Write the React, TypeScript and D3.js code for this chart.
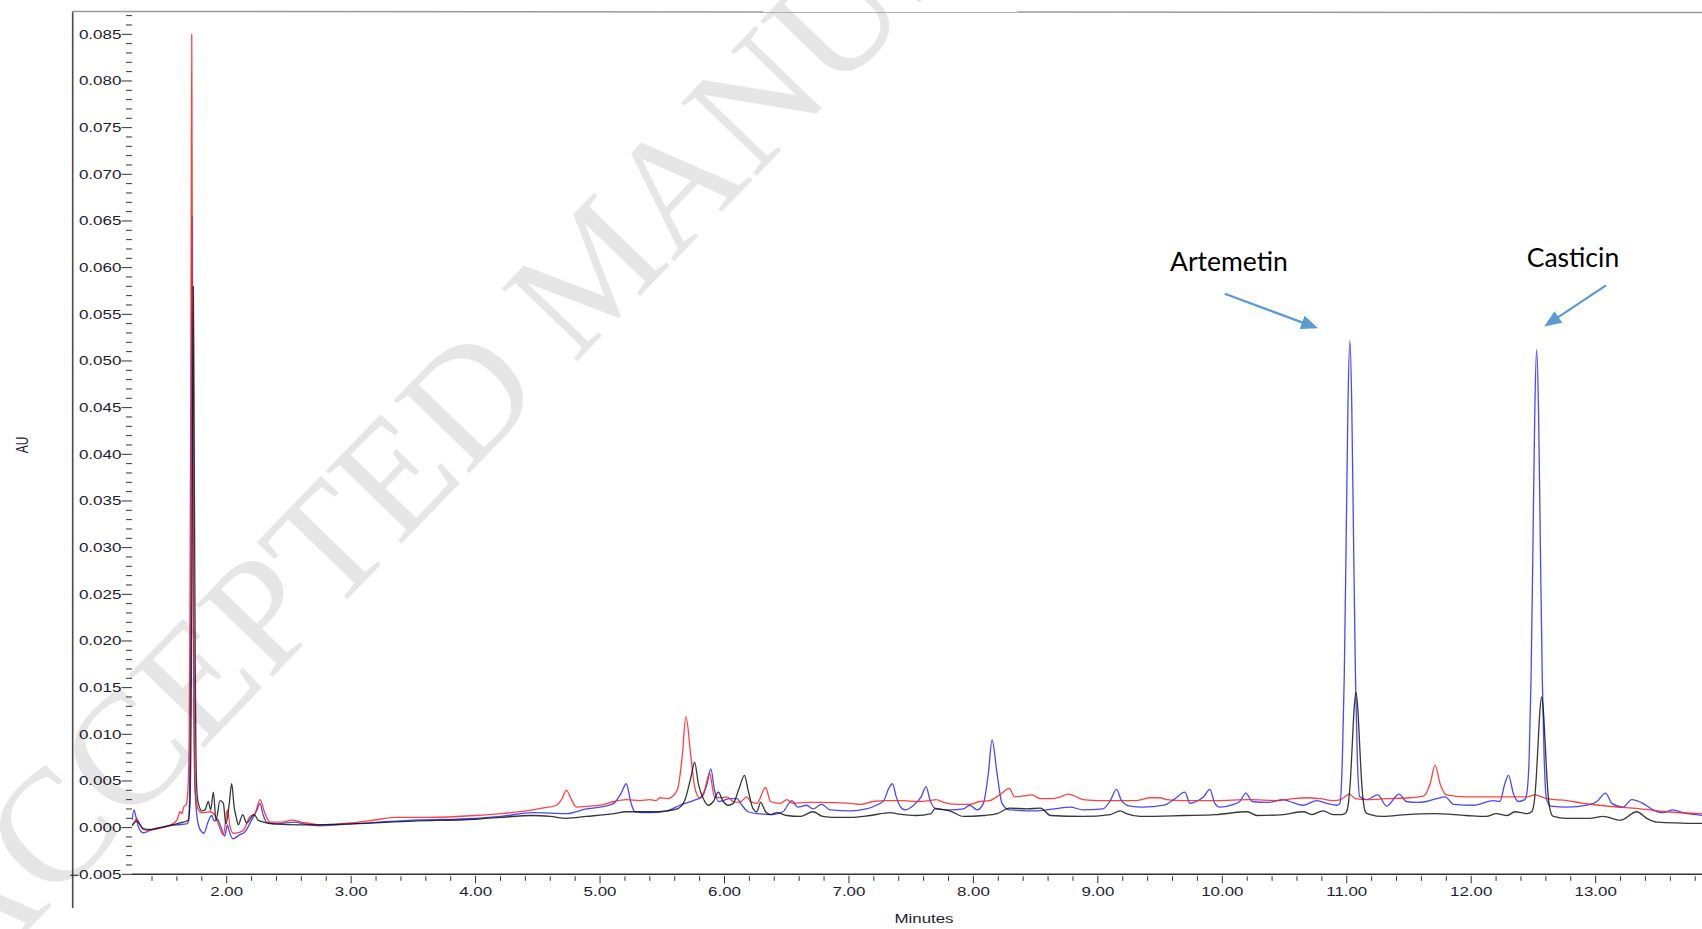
import React from "react";
import * as d3 from "d3";

// Retention time (min) and absorbance (AU) for each injection trace.
const blueTrace: [number, number][] = [
  [1.24, 0.0008], [1.255, 0.0019], [1.27, 0.0012], [1.29, 0.0001], [1.33, -0.00055],
  [1.40, -0.0002], [1.50, 0.0001], [1.60, 0.0003], [1.68, 0.0004], [1.695, 0.0008],
  [1.702, 0.004], [1.707, 0.012], [1.712, 0.027], [1.717, 0.048], [1.722, 0.0655],
  [1.727, 0.048], [1.732, 0.027], [1.737, 0.012], [1.743, 0.005], [1.75, 0.003],
  [1.765, 0.0008], [1.79, -0.0003], [1.817, -0.0006], [1.85, 0.0006], [1.879, 0.0013],
  [1.90, 0.0007], [1.925, 0.0009], [1.95, 0.0002], [1.985, -0.0009], [2.005, 0.0003],
  [2.02, -0.0004], [2.05, -0.0012], [2.10, -0.0008], [2.15, -0.0004], [2.20, 0.0008],
  [2.24, 0.0018], [2.268, 0.0026], [2.29, 0.0015], [2.32, 0.0006], [2.40, 0.0004],
  [2.55, 0.0006], [2.62, 0.0004], [2.75, 0.0002], [3.00, 0.0004], [3.50, 0.0008],
  [4.00, 0.0010], [4.20, 0.0012], [4.46, 0.0016], [4.73, 0.0015], [4.89, 0.0020],
  [5.00, 0.0022], [5.11, 0.0026], [5.17, 0.0037], [5.21, 0.0047], [5.25, 0.0026],
  [5.28, 0.0017], [5.40, 0.0016], [5.54, 0.0018], [5.64, 0.0024], [5.75, 0.0029],
  [5.82, 0.0033], [5.86, 0.0047], [5.89, 0.0063], [5.92, 0.0040], [5.95, 0.0028],
  [5.99, 0.0029], [6.04, 0.0031], [6.10, 0.0031], [6.14, 0.0024], [6.19, 0.0017],
  [6.26, 0.0015], [6.39, 0.0014], [6.47, 0.0017], [6.54, 0.0029], [6.59, 0.0022],
  [6.66, 0.0024], [6.71, 0.0020], [6.78, 0.0025], [6.85, 0.0019], [7.01, 0.0018],
  [7.14, 0.0020], [7.22, 0.0024], [7.28, 0.0029], [7.32, 0.0042], [7.35, 0.0047],
  [7.38, 0.0033], [7.41, 0.0023], [7.45, 0.0019], [7.52, 0.0024], [7.58, 0.0033],
  [7.62, 0.0044], [7.65, 0.0030], [7.69, 0.0021], [7.81, 0.0019], [7.92, 0.0020],
  [7.97, 0.0024], [8.03, 0.0019], [8.08, 0.0026], [8.12, 0.0058], [8.15, 0.0094],
  [8.19, 0.0058], [8.23, 0.0026], [8.29, 0.0019], [8.51, 0.0018], [8.65, 0.0020],
  [8.78, 0.0022], [8.88, 0.0019], [9.04, 0.0020], [9.10, 0.0029], [9.15, 0.0041],
  [9.19, 0.0029], [9.26, 0.0023], [9.36, 0.0022], [9.53, 0.0024], [9.61, 0.0030],
  [9.70, 0.0038], [9.74, 0.0026], [9.79, 0.0028], [9.85, 0.0033], [9.90, 0.0041],
  [9.94, 0.0026], [9.98, 0.0022], [10.09, 0.0025], [10.14, 0.0028], [10.19, 0.0037],
  [10.24, 0.0028], [10.36, 0.0027], [10.49, 0.0030], [10.54, 0.0028], [10.65, 0.0024],
  [10.76, 0.0029], [10.84, 0.0026], [10.92, 0.0024], [10.945, 0.0026], [10.965, 0.0075],
  [10.98, 0.0162], [10.995, 0.0305], [11.01, 0.0455], [11.025, 0.0522], [11.04, 0.0455],
  [11.055, 0.0305], [11.07, 0.0162], [11.085, 0.0075], [11.105, 0.0033], [11.16, 0.0030],
  [11.25, 0.0035], [11.32, 0.0023], [11.42, 0.0036], [11.48, 0.0028], [11.56, 0.0027],
  [11.64, 0.0028], [11.72, 0.0031], [11.79, 0.0033], [11.86, 0.0025], [12.02, 0.0024],
  [12.18, 0.0029], [12.23, 0.0028], [12.27, 0.0047], [12.30, 0.0056], [12.34, 0.0036],
  [12.38, 0.0028], [12.43, 0.0030], [12.446, 0.0036], [12.466, 0.0076], [12.481, 0.0161],
  [12.496, 0.0300], [12.511, 0.0447], [12.526, 0.0512], [12.541, 0.0447], [12.556, 0.0300],
  [12.571, 0.0161], [12.586, 0.0076], [12.606, 0.0030], [12.64, 0.0023], [12.77, 0.0022],
  [12.93, 0.0024], [13.01, 0.0028], [13.08, 0.0037], [13.13, 0.0026], [13.22, 0.0022],
  [13.29, 0.0030], [13.38, 0.0026], [13.46, 0.0019], [13.54, 0.0016], [13.62, 0.0019],
  [13.70, 0.0016], [13.86, 0.0013],
];

const redTrace: [number, number][] = [
  [1.24, 0.0003], [1.255, 0.0005], [1.277, 0.0010], [1.30, 0.0004], [1.33, -0.0002],
  [1.37, -0.0003], [1.45, -0.0001], [1.55, 0.0003], [1.60, 0.0008], [1.625, 0.0017],
  [1.64, 0.0015], [1.655, 0.0022], [1.675, 0.0025], [1.69, 0.0045], [1.699, 0.0105],
  [1.704, 0.021], [1.709, 0.038], [1.714, 0.059], [1.719, 0.085], [1.724, 0.059],
  [1.729, 0.038], [1.734, 0.021], [1.739, 0.0105], [1.745, 0.0045], [1.755, 0.0030],
  [1.772, 0.0019], [1.80, 0.0016], [1.826, 0.0016], [1.866, 0.0017], [1.906, 0.0013],
  [1.933, 0.0004], [1.973, -0.0008], [2.005, 0.0019], [2.027, 0.0001], [2.053, -0.0006],
  [2.10, -0.0005], [2.134, -0.0003], [2.187, 0.0012], [2.227, 0.0015], [2.268, 0.0030],
  [2.308, 0.0015], [2.348, 0.0006], [2.45, 0.0006], [2.52, 0.0008], [2.60, 0.0006],
  [2.75, 0.0003], [3.00, 0.0005], [3.232, 0.0009], [3.35, 0.0011], [3.60, 0.0011],
  [4.00, 0.0013], [4.20, 0.0015], [4.46, 0.0019], [4.54, 0.0021], [4.65, 0.0024],
  [4.69, 0.0030], [4.73, 0.0040], [4.77, 0.0030], [4.81, 0.0022], [4.92, 0.0023],
  [5.00, 0.0024], [5.11, 0.0028], [5.21, 0.0030], [5.32, 0.0029], [5.40, 0.0030],
  [5.45, 0.0029], [5.48, 0.0032], [5.54, 0.0031], [5.62, 0.0040], [5.66, 0.0076],
  [5.69, 0.0119], [5.73, 0.0076], [5.76, 0.0044], [5.80, 0.0032], [5.84, 0.0040],
  [5.88, 0.0058], [5.92, 0.0033], [5.98, 0.0032], [6.02, 0.0033], [6.07, 0.0028],
  [6.12, 0.0027], [6.18, 0.0033], [6.21, 0.0028], [6.26, 0.0026], [6.33, 0.0043],
  [6.37, 0.0028], [6.45, 0.0026], [6.50, 0.0030], [6.55, 0.0026], [6.66, 0.0027],
  [6.77, 0.0027], [7.01, 0.0026], [7.09, 0.0025], [7.195, 0.0028], [7.28, 0.0029],
  [7.44, 0.0029], [7.54, 0.0028], [7.65, 0.0029], [7.70, 0.0030], [7.76, 0.0027],
  [7.87, 0.0025], [7.97, 0.0025], [8.05, 0.0028], [8.13, 0.0029], [8.21, 0.0035],
  [8.29, 0.0042], [8.33, 0.0033], [8.40, 0.0034], [8.47, 0.0035], [8.54, 0.0031],
  [8.62, 0.0031], [8.70, 0.0033], [8.76, 0.0036], [8.83, 0.0033], [8.88, 0.0030],
  [9.02, 0.0029], [9.15, 0.0029], [9.31, 0.0029], [9.42, 0.0032], [9.50, 0.0032],
  [9.55, 0.0030], [9.69, 0.0029], [9.95, 0.0029], [10.22, 0.0030], [10.44, 0.0029],
  [10.57, 0.0031], [10.70, 0.0032], [10.79, 0.0031], [10.89, 0.0029], [10.95, 0.0030],
  [11.02, 0.0036], [11.07, 0.0031], [11.16, 0.0030], [11.32, 0.0031], [11.51, 0.0032],
  [11.62, 0.0034], [11.67, 0.0047], [11.71, 0.0067], [11.75, 0.0047], [11.80, 0.0035],
  [11.96, 0.0033], [12.23, 0.0033], [12.45, 0.0033], [12.51, 0.0035], [12.61, 0.0031],
  [12.77, 0.0029], [12.90, 0.0026], [13.03, 0.0024], [13.17, 0.0022], [13.30, 0.0021],
  [13.57, 0.0017], [13.86, 0.0015],
];

const blackTrace: [number, number][] = [
  [1.24, 0.0002], [1.277, 0.0007], [1.33, -0.0001], [1.384, -0.0002], [1.50, 0.0001],
  [1.625, 0.0005], [1.69, 0.0008], [1.705, 0.0025], [1.712, 0.009], [1.717, 0.018],
  [1.722, 0.032], [1.727, 0.047], [1.732, 0.058], [1.737, 0.047], [1.742, 0.032],
  [1.747, 0.018], [1.752, 0.009], [1.76, 0.004], [1.772, 0.0026], [1.80, 0.0018],
  [1.826, 0.0019], [1.852, 0.0028], [1.871, 0.0019], [1.893, 0.0038], [1.914, 0.0008],
  [1.946, 0.0029], [1.973, 0.0026], [1.994, 0.0004], [2.02, 0.0025], [2.04, 0.0047],
  [2.06, 0.0022], [2.075, 0.0012], [2.093, 0.0003], [2.128, 0.0014], [2.16, 0.0005],
  [2.22, 0.0014], [2.254, 0.0008], [2.295, 0.0006], [2.375, 0.0004], [2.60, 0.0003],
  [3.00, 0.0004], [3.50, 0.0007], [4.00, 0.0009], [4.20, 0.0011], [4.46, 0.0013],
  [4.60, 0.0012], [4.73, 0.0010], [4.89, 0.0012], [5.11, 0.0015], [5.21, 0.0017],
  [5.40, 0.0017], [5.54, 0.0018], [5.62, 0.0020], [5.68, 0.0029], [5.73, 0.0054],
  [5.76, 0.0070], [5.79, 0.0047], [5.83, 0.0031], [5.87, 0.0024], [5.91, 0.0028],
  [5.95, 0.0038], [5.99, 0.0028], [6.03, 0.0024], [6.07, 0.0026], [6.12, 0.0043],
  [6.16, 0.0056], [6.19, 0.0040], [6.23, 0.0020], [6.26, 0.0017], [6.29, 0.0027],
  [6.33, 0.0017], [6.37, 0.0014], [6.42, 0.0016], [6.50, 0.0013], [6.61, 0.0012],
  [6.71, 0.0017], [6.79, 0.0012], [6.88, 0.0011], [7.01, 0.0011], [7.17, 0.0013],
  [7.33, 0.0016], [7.38, 0.0015], [7.54, 0.0013], [7.66, 0.0015], [7.69, 0.0020],
  [7.81, 0.0018], [7.92, 0.0012], [8.08, 0.0013], [8.19, 0.0015], [8.29, 0.0021],
  [8.43, 0.0020], [8.54, 0.0021], [8.62, 0.0013], [8.88, 0.0012], [9.10, 0.0014],
  [9.18, 0.0018], [9.23, 0.0015], [9.34, 0.0012], [9.69, 0.0013], [9.95, 0.0014],
  [10.20, 0.0017], [10.28, 0.0013], [10.49, 0.0014], [10.65, 0.0017], [10.72, 0.0014],
  [10.81, 0.0018], [10.89, 0.0014], [10.96, 0.0014], [10.994, 0.0016], [11.014, 0.0027],
  [11.029, 0.0050], [11.044, 0.0088], [11.059, 0.0127], [11.074, 0.0145], [11.089, 0.0127],
  [11.104, 0.0088], [11.119, 0.0050], [11.134, 0.0027], [11.154, 0.0016], [11.19, 0.0014],
  [11.29, 0.0012], [11.48, 0.0014], [11.70, 0.0015], [11.96, 0.0013], [12.12, 0.0012],
  [12.20, 0.0015], [12.29, 0.0013], [12.35, 0.0017], [12.45, 0.0015], [12.486, 0.0017],
  [12.506, 0.0027], [12.521, 0.0050], [12.536, 0.0086], [12.551, 0.0123], [12.566, 0.0140],
  [12.581, 0.0123], [12.596, 0.0086], [12.611, 0.0048], [12.626, 0.0025], [12.646, 0.0014],
  [12.66, 0.0012], [12.77, 0.0010], [12.95, 0.0010], [13.06, 0.0012], [13.20, 0.0008],
  [13.33, 0.0017], [13.41, 0.0010], [13.49, 0.0006], [13.86, 0.00045],
];

const traceColors = { blue: "#2828ff", red: "#ff2020", black: "#141414" };

// Axis ticks
const yMajorTicks = [
  -0.005, 0.0, 0.005, 0.01, 0.015, 0.02, 0.025, 0.03, 0.035, 0.04,
  0.045, 0.05, 0.055, 0.06, 0.065, 0.07, 0.075, 0.08, 0.085,
];
const xMajorTicks = [2, 3, 4, 5, 6, 7, 8, 9, 10, 11, 12, 13];

// Compound annotations: label anchor and arrow tail/tip, in (minutes, AU)
const compoundLabels = [
  { name: "Artemetin", text: [9.58, 0.0596], tail: [10.02, 0.0572], tip: [10.77, 0.0535] },
  { name: "Casticin", text: [12.446, 0.0601], tail: [13.083, 0.0581], tip: [12.587, 0.0537] },
];

const W = 1702;
const H = 929;
const plotLeft = 132;

export default function App() {
  const x = d3.scaleLinear().domain([2, 13]).range([226.7, 1595.65]);
  const y = d3.scaleLinear().domain([-0.005, 0.085]).range([874.3, 34.3]);

  const line = d3
    .line<[number, number]>()
    .x((d) => x(d[0]))
    .y((d) => y(d[1]))
    .curve(d3.curveMonotoneX);

  const fmtY = d3.format(".3f");
  const fmtX = d3.format(".2f");

  const yMinorTicks = d3
    .range(-5, 88)
    .map((v) => v / 1000)
    .filter((v) => !yMajorTicks.some((m) => Math.abs(m - v) < 1e-9));
  const xMinorTicks = d3
    .range(7, 70)
    .map((v) => v / 5)
    .filter((v) => !xMajorTicks.some((m) => Math.abs(m - v) < 1e-9));

  const axisY = y(-0.005);
  const labelFont = "'Liberation Sans', Arial, sans-serif";

  const arrowHead = (tail: number[], tip: number[]) => {
    const x0 = x(tail[0]), y0 = y(tail[1]);
    const x1 = x(tip[0]), y1 = y(tip[1]);
    const ang = Math.atan2(y1 - y0, x1 - x0);
    const len = 17, half = 7;
    const bx = x1 - len * Math.cos(ang), by = y1 - len * Math.sin(ang);
    const px = -Math.sin(ang) * half, py = Math.cos(ang) * half;
    return {
      shaft: { x1: x0, y1: y0, x2: bx + 2 * Math.cos(ang), y2: by + 2 * Math.sin(ang) },
      head: `${x1},${y1} ${bx + px},${by + py} ${bx - px},${by - py}`,
    };
  };

  return (
    <svg
      width={W}
      height={H}
      style={{ position: "absolute", left: 0, top: 0, background: "#fff" }}
    >
      <defs>
        <clipPath id="plot-clip">
          <rect x={plotLeft} y={0} width={W - plotLeft} height={axisY} />
        </clipPath>
      </defs>
      <rect x={0} y={0} width={W} height={H} fill="#fff" />

      {/* watermark */}
      <g transform="translate(-28, 988) rotate(-46)">
        <text
          x={0}
          y={0}
          fontFamily="'Liberation Serif', 'Times New Roman', serif"
          fontSize={160}
          fill="#e6e6e6"
        >
          ACCEPTED MANUSCRIPT
        </text>
      </g>

      {/* frame */}
      <line x1={72.7} y1={11.5} x2={72.7} y2={908} stroke="#4a4a4a" strokeWidth={1.6} />
      <line x1={72} y1={11.5} x2={W} y2={12.5} stroke="#9a9a9a" strokeWidth={1.5} />

      {/* y axis */}
      {yMinorTicks.map((v) => (
        <line key={"ym" + v} x1={126} x2={132} y1={y(v)} y2={y(v)} stroke="#333" strokeWidth={1} />
      ))}
      {yMajorTicks.map((v) => (
        <g key={"yM" + v}>
          <line x1={121.5} x2={132} y1={y(v)} y2={y(v)} stroke="#333" strokeWidth={1} />
          <text
            transform={`translate(121.5, ${y(v) + 4.2}) scale(1.42, 1)`}
            textAnchor="end"
            fontFamily={labelFont}
            fontSize={12}
            fill="#1e1e30"
          >
            {fmtY(v)}
          </text>
        </g>
      ))}
      <text
        transform="translate(28, 445) rotate(-90) scale(1, 1.4)"
        textAnchor="middle"
        fontFamily={labelFont}
        fontSize={12}
        fill="#1e1e30"
      >
        AU
      </text>

      {/* x axis */}
      <line x1={plotLeft} x2={W} y1={axisY} y2={axisY} stroke="#333" strokeWidth={1.5} />
      {xMinorTicks.map((v) => (
        <line key={"xm" + v} x1={x(v)} x2={x(v)} y1={axisY + 2} y2={axisY + 6.5} stroke="#333" strokeWidth={1} />
      ))}
      {xMajorTicks.map((v) => (
        <g key={"xM" + v}>
          <line x1={x(v)} x2={x(v)} y1={axisY + 1.5} y2={axisY + 9} stroke="#333" strokeWidth={1} />
          <text
            transform={`translate(${x(v)}, 896) scale(1.3, 1)`}
            textAnchor="middle"
            fontFamily={labelFont}
            fontSize={13}
            fill="#1e1e30"
          >
            {fmtX(v)}
          </text>
        </g>
      ))}
      <text
        transform="translate(924, 922.5) scale(1.3, 1)"
        textAnchor="middle"
        fontFamily={labelFont}
        fontSize={13}
        fill="#1e1e30"
      >
        Minutes
      </text>

      {/* traces */}
      <g clipPath="url(#plot-clip)" fill="none" strokeWidth={1.3} strokeLinejoin="round">
        <path d={line(blueTrace) ?? ""} stroke={traceColors.blue} opacity={0.85} />
        <path d={line(redTrace) ?? ""} stroke={traceColors.red} opacity={0.85} />
        <path d={line(blackTrace) ?? ""} stroke={traceColors.black} opacity={0.85} />
      </g>

      {/* compound annotations */}
      {compoundLabels.map((c) => {
        const a = arrowHead(c.tail, c.tip);
        return (
          <g key={c.name}>
            <text
              x={x(c.text[0])}
              y={y(c.text[1])}
              fontFamily="Lato, 'Open Sans', sans-serif"
              fontSize={26.5}
              fill="#000"
            >
              {c.name}
            </text>
            <line {...a.shaft} stroke="#5b9bd5" strokeWidth={2.2} />
            <polygon points={a.head} fill="#5b9bd5" />
          </g>
        );
      })}
    </svg>
  );
}
